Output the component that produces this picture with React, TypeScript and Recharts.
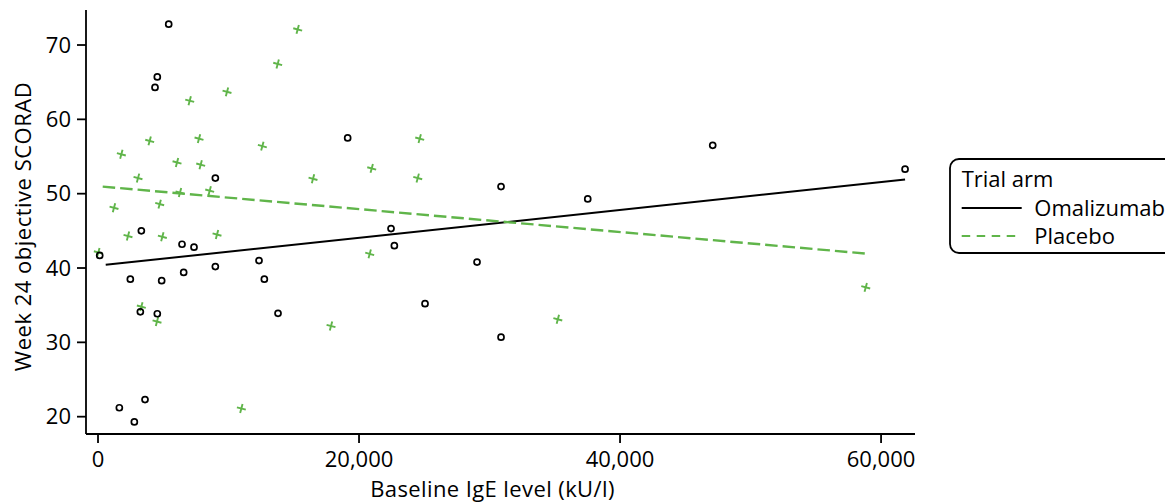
import React from 'react';
import { ScatterChart, Scatter, XAxis, YAxis, Legend } from 'recharts';

const FONT = "'Open Sans', sans-serif";
const GREEN = '#60b54a';

const omalizumabPoints = [
  { x: 5417, y: 72.8 }, { x: 4544, y: 65.7 }, { x: 4368, y: 64.3 }, { x: 8991, y: 52.1 },
  { x: 3321, y: 45.0 }, { x: 6437, y: 43.2 }, { x: 7356, y: 42.8 }, { x: 130, y: 41.7 },
  { x: 2477, y: 38.5 }, { x: 4878, y: 38.3 }, { x: 6564, y: 39.4 }, { x: 8991, y: 40.2 },
  { x: 3244, y: 34.1 }, { x: 4544, y: 33.85 }, { x: 1635, y: 21.2 }, { x: 3602, y: 22.3 },
  { x: 2784, y: 19.3 }, { x: 19130, y: 57.5 }, { x: 22452, y: 45.3 }, { x: 22708, y: 43.0 },
  { x: 12337, y: 41.0 }, { x: 12745, y: 38.5 }, { x: 13793, y: 33.9 }, { x: 25057, y: 35.2 },
  { x: 30881, y: 50.95 }, { x: 37525, y: 49.3 }, { x: 29042, y: 40.8 }, { x: 30881, y: 30.7 },
  { x: 47100, y: 56.5 }, { x: 61839, y: 53.3 },
];

const placeboPoints = [
  { x: 26, y: 42.1 }, { x: 1226, y: 48.1 }, { x: 1788, y: 55.3 }, { x: 2299, y: 44.3 },
  { x: 3065, y: 52.1 }, { x: 3321, y: 34.8 }, { x: 3959, y: 57.1 }, { x: 4521, y: 32.8 },
  { x: 4725, y: 48.6 }, { x: 4930, y: 44.2 }, { x: 6054, y: 54.2 }, { x: 6284, y: 50.15 },
  { x: 7026, y: 62.5 }, { x: 7740, y: 57.4 }, { x: 7867, y: 53.9 }, { x: 8557, y: 50.4 },
  { x: 9119, y: 44.5 }, { x: 9885, y: 63.7 }, { x: 10983, y: 21.1 }, { x: 12592, y: 56.4 },
  { x: 13767, y: 67.45 }, { x: 15300, y: 72.1 }, { x: 16475, y: 52.0 }, { x: 17854, y: 32.2 },
  { x: 20818, y: 41.9 }, { x: 20973, y: 53.4 }, { x: 24498, y: 52.1 }, { x: 24650, y: 57.4 },
  { x: 35233, y: 33.1 }, { x: 58825, y: 37.4 },
];

const omalizumabFit = [{ x: 590, y: 40.43 }, { x: 61839, y: 51.9 }];
const placeboFit = [{ x: 360, y: 50.95 }, { x: 59103, y: 41.9 }];

const xTicks = [0, 20000, 40000, 60000];
const yTicks = [20, 30, 40, 50, 60, 70];
const xDomain = [-920, 62600];
const yDomain = [17.67, 74.71];

const xTitle = 'Baseline IgE level (kU/l)';
const yTitle = 'Week 24 objective SCORAD';
const legendTitle = 'Trial arm';
const seriesNames = ['Omalizumab', 'Placebo'];

const CircleMark = (p: any) =>
  p.cx == null ? <g /> : (
    <circle cx={p.cx} cy={p.cy} r={3} fill="none" stroke="#000" strokeWidth={1.7} />
  );

const PlusMark = (p: any) =>
  p.cx == null ? <g /> : (
    <g transform={`translate(${p.cx},${p.cy}) rotate(15)`}>
      <line x1={-4.6} x2={4.6} y1={0} y2={0} stroke={GREEN} strokeWidth={1.9} />
      <line x1={0} x2={0} y1={-4.6} y2={4.6} stroke={GREEN} strokeWidth={1.9} />
    </g>
  );

const NoMark = () => <g />;

const YTitle = (props: any) => {
  const vb = props.viewBox || { x: 0, y: 2, width: 78, height: 424 };
  const x = vb.x + 22.5;
  const y = vb.y + vb.height / 2 + 4.5;
  return (
    <text
      x={x}
      y={y}
      transform={`rotate(-90, ${x}, ${y})`}
      textAnchor="middle"
      fill="#000"
      fontSize={22}
      fontFamily={FONT}
      letterSpacing={0.5}
    >
      {yTitle}
    </text>
  );
};

const LegendBox = () => (
  <svg width={224} height={98} style={{ display: 'block', overflow: 'visible' }}>
    <path
      d="M 224 1 H 10 A 9 9 0 0 0 1 10 V 86 A 9 9 0 0 0 10 95 H 224"
      fill="#fff"
      stroke="#000"
      strokeWidth={1.8}
    />
    <text x={12.7} y={29} fontSize={22} fontFamily={FONT} fill="#000">{legendTitle}</text>
    <line x1={12.7} x2={72.7} y1={50} y2={50} stroke="#000" strokeWidth={2} />
    <text x={85.3} y={57.5} fontSize={22} fontFamily={FONT} fill="#000">{seriesNames[0]}</text>
    <line x1={12.7} x2={67} y1={78} y2={78} stroke={GREEN} strokeWidth={2.2} strokeDasharray="8.5 6.5" />
    <text x={85.3} y={85.5} fontSize={22} fontFamily={FONT} fill="#000">{seriesNames[1]}</text>
  </svg>
);

export default function App() {
  return (
    <ScatterChart
      width={1165}
      height={496}
      margin={{ top: 2, right: 258, bottom: 0, left: 0 }}
    >
      <XAxis
        type="number"
        dataKey="x"
        domain={xDomain}
        ticks={xTicks}
        allowDataOverflow
        interval={0}
        height={70}
        tickSize={9}
        tickMargin={8}
        axisLine={{ stroke: '#000', strokeWidth: 1.8 }}
        tickLine={{ stroke: '#000', strokeWidth: 1.8 }}
        tick={{ fill: '#000', fontSize: 22, fontFamily: FONT }}
        tickFormatter={(v: number) => v.toLocaleString('en-US')}
        label={{
          value: xTitle,
          position: 'insideBottom',
          offset: 7,
          dx: -8,
          fill: '#000',
          fontSize: 22,
          fontFamily: FONT,
          letterSpacing: 0.4,
        }}
      />
      <YAxis
        type="number"
        dataKey="y"
        domain={yDomain}
        ticks={yTicks}
        allowDataOverflow
        interval={0}
        width={78}
        tickSize={9}
        tickMargin={6}
        axisLine={{ stroke: '#000', strokeWidth: 1.8 }}
        tickLine={{ stroke: '#000', strokeWidth: 1.8 }}
        tick={{ fill: '#000', fontSize: 22, fontFamily: FONT }}
        label={<YTitle />}
      />
      <Legend
        layout="vertical"
        align="center"
        verticalAlign="middle"
        content={() => <LegendBox />}
        wrapperStyle={{ left: 941, top: 150, width: 224, height: 98 }}
      />
      <Scatter
        name="Omalizumab fit"
        data={omalizumabFit}
        line={{ stroke: '#000', strokeWidth: 2 }}
        shape={NoMark}
        legendType="none"
        isAnimationActive={false}
      />
      <Scatter
        name="Placebo fit"
        data={placeboFit}
        line={{ stroke: GREEN, strokeWidth: 2.4, strokeDasharray: '12.5 5' }}
        shape={NoMark}
        legendType="none"
        isAnimationActive={false}
      />
      <Scatter
        name="Placebo"
        data={placeboPoints}
        shape={PlusMark}
        isAnimationActive={false}
      />
      <Scatter
        name="Omalizumab"
        data={omalizumabPoints}
        shape={CircleMark}
        isAnimationActive={false}
      />
    </ScatterChart>
  );
}
